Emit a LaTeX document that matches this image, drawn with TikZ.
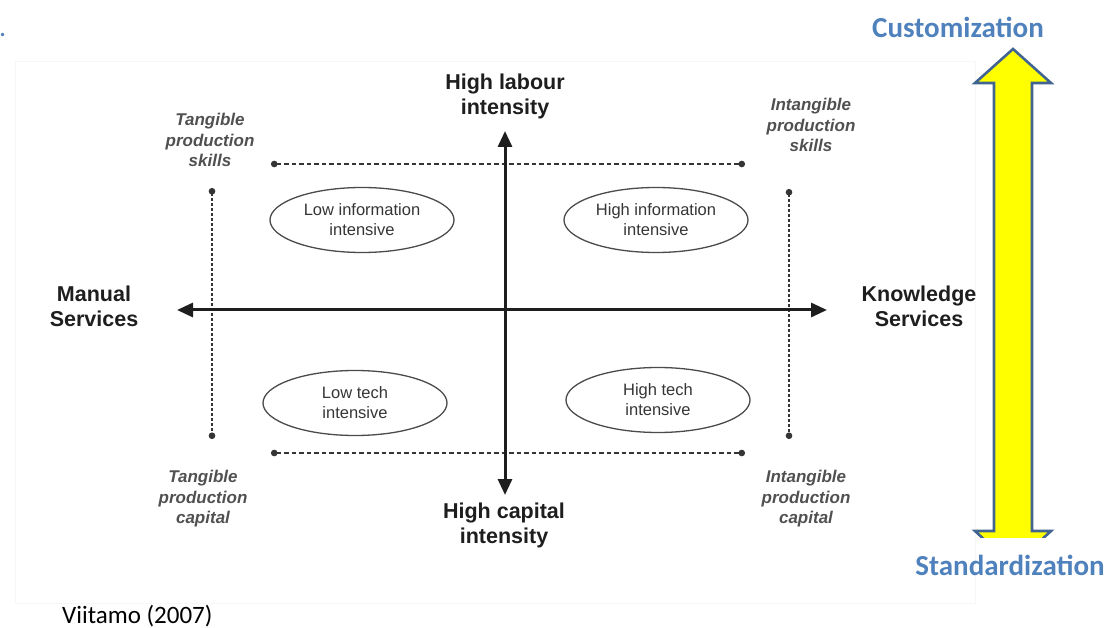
\documentclass[tikz,border=0pt]{standalone}
\usepackage{fontspec}
\setmainfont{Liberation Sans}
\newfontfamily\calibri{Carlito}
\usetikzlibrary{arrows.meta,shapes.geometric}

\definecolor{officeblue}{RGB}{79,129,189}
\definecolor{arrowedge}{RGB}{65,100,145}
\definecolor{arrowfill}{RGB}{255,255,0}
\definecolor{ink}{RGB}{30,30,30}
\definecolor{softink}{RGB}{80,80,80}

\tikzset{
  axis/.style={line width=3pt, draw=ink,
    {Triangle[length=16pt,width=14pt]}-{Triangle[length=16pt,width=14pt]}},
  guideh/.style={line width=2pt, draw=ink!90, dash pattern=on 4.5pt off 3pt,
    {Circle[length=6.5pt]}-{Circle[length=6.5pt]}},
  guidev/.style={line width=2pt, draw=ink!90, dash pattern=on 2.6pt off 2.4pt,
    {Circle[length=6.5pt]}-{Circle[length=6.5pt]}},
  pole/.style={font=\fontsize{21.5}{25}\selectfont\bfseries, align=center,
    text=ink, inner sep=0pt},
  corner/.style={font=\fontsize{17}{20.5}\selectfont\bfseries\itshape,
    align=center, text=softink, inner sep=0pt},
  sector/.style={ellipse, draw=ink!80, line width=1.3pt, minimum width=184pt,
    minimum height=65pt, inner sep=0pt, align=center,
    font=\fontsize{16.5}{20}\selectfont, text=ink!90},
  scale label/.style={font=\calibri\fontsize{29}{30}\selectfont\bfseries,
    text=officeblue, inner sep=0pt},
}

\begin{document}
\begin{tikzpicture}[x=1pt,y=-1pt]
\useasboundingbox (0,0) rectangle (1112,628);

% faint frame around the figure
\draw[black!3, line width=0.8pt] (15,61) rectangle (975,603);

% stray mark in the corner
\node[anchor=base west, inner sep=0pt, text=officeblue,
  font=\calibri\fontsize{28}{30}\selectfont] (dot) at (-1,37) {.};

% scale on the right
\begin{scope}
  \clip (955,40) rectangle (1070,537);
  \draw[fill=arrowfill, draw=arrowedge, line width=2.6pt, line join=miter]
    (1013,49) -- (1051,83) -- (1032,83) -- (1032,531) -- (1051,531)
    -- (1013,566) -- (975,531) -- (994,531) -- (994,83) -- (975,83) -- cycle;
\end{scope}
\node[scale label] (cust) at (958,27) {Customization};
\node[scale label] (stand) at (1010,565) {Standardization};

% axis end points
\coordinate (west) at (177,310);
\coordinate (east) at (827,310);
\coordinate (north) at (505,131);
\coordinate (south) at (505,495);

% guide line end points
\coordinate (tl) at (271,164);
\coordinate (tr) at (745,164);
\coordinate (bl) at (271,453);
\coordinate (br) at (745,453);
\coordinate (lt) at (212,188);
\coordinate (lb) at (212,439);
\coordinate (rt) at (789,189);
\coordinate (rb) at (789,439);

\draw[guideh] (tl) -- (tr);
\draw[guideh] (bl) -- (br);
\draw[guidev] (lt) -- (lb);
\draw[guidev] (rt) -- (rb);

\draw[axis] (west) -- (east);
\draw[axis] (south) -- (north);

% pole labels
\node[pole] (labour) at (505,96) {High labour\\intensity};
\node[pole] (capital) at (504,525) {High capital\\intensity};
\node[pole] (manual) at (94,306) {Manual\\Services};
\node[pole] (knowledge) at (919,306) {Knowledge\\Services};

% corner labels
\node[corner] (tskills) at (210,140) {Tangible\\production\\skills};
\node[corner] (iskills) at (811,125) {Intangible\\production\\skills};
\node[corner] (tcap) at (203,499) {Tangible\\production\\capital};
\node[corner] (icap) at (806,499) {Intangible\\production\\capital};

% quadrants
\node[sector] (lowinfo) at (362,220) {Low information\\intensive};
\node[sector] (highinfo) at (656,220) {High information\\intensive};
\node[sector] (lowtech) at (355,403) {Low tech\\intensive};
\node[sector] (hightech) at (658,400) {High tech\\intensive};

% source
\node[anchor=west, inner sep=0pt, font=\calibri\fontsize{25}{27}\selectfont,
  text=black] (source) at (62,616) {Viitamo (2007)};
\end{tikzpicture}
\end{document}
